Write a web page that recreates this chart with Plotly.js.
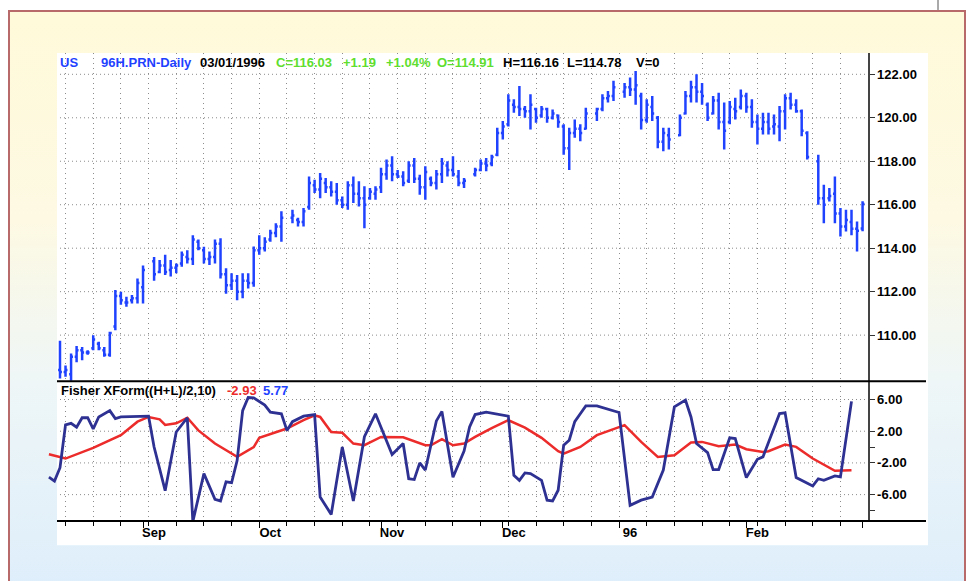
<!DOCTYPE html>
<html><head><meta charset="utf-8">
<script src="https://cdn.plot.ly/plotly-3.0.1.min.js"></script>
<style>
html,body{margin:0;padding:0;background:#fff;width:970px;height:581px;overflow:hidden;}
#frame{position:absolute;left:8px;top:10px;width:954px;height:600px;border:2px solid #b86a6a;
background:linear-gradient(to bottom,#fffad9 0%,#fdf9e3 35%,#eef6f7 62%,#dcedfb 100%);}
#chart{position:absolute;left:0;top:0;width:970px;height:581px;}
</style></head><body>
<div id="frame"></div><div id="chart"></div>
<script>
// trading-day index (weekdays from Aug 11 1995 = 0; holidays missing)
const dayIdx = [0,1,2,3,4,5,6,7,8,9,10,11,12,13,14,15,17,18,19,20,21,22,23,24,25,26,27,28,29,30,31,32,33,34,35,36,37,38,39,40,42,43,44,45,46,47,48,49,50,51,52,53,54,55,56,57,58,59,60,61,62,63,64,65,66,67,68,69,70,71,72,73,75,76,77,78,79,80,81,82,83,84,85,86,87,88,89,90,91,92,93,94,95,97,98,99,100,102,103,104,105,106,107,108,109,110,112,113,114,115,116,117,118,119,120,121,122,123,124,125,126,127,128,129,130,131,132,133,134,135,137,138,139,140,141,142,143,144,145];
const high = [109.74,108.6,109.15,109.5,109.45,109.3,110.0,109.7,109.45,110.15,112.08,112.0,111.77,111.85,112.6,113.2,
113.6,113.46,113.7,113.46,113.3,113.85,113.9,114.6,114.4,114.07,113.85,114.4,114.46,113.08,112.85,112.77,112.85,112.85,114.08,114.6,114.5,114.85,115.15,115.7,
115.77,115.4,115.85,117.3,117.15,117.46,117.23,117.08,117.0,116.38,117.08,117.3,117.08,116.85,116.77,116.85,117.7,118.08,118.23,117.6,117.54,118.0,118.15,117.38,117.77,117.3,117.6,118.15,118.0,118.23,117.6,117.23,
117.7,118.08,118.15,118.3,119.54,119.85,121.08,120.85,121.46,120.54,121.08,120.46,120.54,120.46,120.38,120.15,119.7,119.54,119.92,119.7,120.46,
120.46,121.08,121.23,121.7,
121.6,121.85,122.15,121.15,120.85,121.0,120.08,119.54,119.54,
120.15,121.23,121.7,122.0,121.6,120.7,121.0,121.15,120.7,120.77,120.92,121.3,121.15,120.85,120.15,120.23,120.23,120.15,120.54,121.08,121.15,120.85,120.38,119.38,
118.3,116.92,116.77,117.3,115.85,115.77,115.77,115.23,116.16];
const low = [108.0,108.08,107.9,108.75,108.85,109.1,109.3,109.3,109.0,109.0,110.23,111.4,111.3,111.46,111.46,111.46,
112.5,112.85,112.77,112.7,112.85,113.15,113.3,113.23,113.9,113.3,113.23,113.3,112.6,111.9,112.08,111.6,111.7,112.15,112.23,113.7,113.85,114.3,114.5,114.3,
115.15,115.0,115.0,115.77,116.54,116.3,116.54,116.38,116.0,115.85,115.77,116.08,115.92,114.92,116.23,116.23,116.54,117.15,117.08,117.23,116.85,117.0,117.0,116.46,116.23,116.85,116.7,117.0,117.3,117.3,116.85,116.77,
117.3,117.54,117.54,117.77,118.23,119.0,119.6,120.23,120.08,120.0,119.46,119.77,120.0,119.77,119.92,119.54,118.3,117.6,119.08,118.92,119.46,
119.85,120.3,120.7,120.77,
120.92,121.0,120.6,119.46,119.77,119.85,118.6,118.46,118.54,
119.15,120.15,120.7,120.7,120.6,119.85,120.15,119.46,118.54,119.7,119.92,120.38,120.23,119.54,118.77,119.23,119.23,119.23,118.92,119.46,120.38,120.23,119.15,118.08,
116.0,115.15,116.15,115.15,114.54,114.77,114.6,113.85,114.78];
const open = [108.4,108.3,108.2,109.0,109.3,109.2,109.4,109.6,109.3,109.1,110.4,111.8,111.5,111.6,111.7,112.2,
113.4,112.9,113.2,113.0,113.1,113.3,113.6,113.5,114.3,113.9,113.5,113.6,114.2,112.8,112.3,112.5,112.0,112.5,112.4,113.9,114.0,114.4,114.7,115.0,
115.4,115.3,115.2,115.9,116.9,116.7,117.0,116.8,116.6,116.2,116.0,116.9,116.5,116.3,116.3,116.5,116.8,117.4,117.8,117.4,117.3,117.1,117.8,117.2,116.8,117.2,117.0,117.4,117.8,117.6,117.3,117.0,
117.4,117.6,117.9,117.9,118.3,119.3,119.7,120.6,120.5,120.4,120.3,120.4,120.1,120.4,120.0,120.1,119.6,118.6,119.3,119.5,119.5,
120.2,120.4,120.9,121.0,
121.2,121.4,121.3,121.0,119.9,120.5,120.0,118.9,119.2,
119.2,120.2,121.0,121.4,121.2,120.6,120.2,120.8,119.8,119.8,120.4,120.5,121.0,120.5,119.8,119.5,119.8,119.6,119.6,120.3,120.9,120.6,120.3,119.3,
118.0,116.3,116.3,116.5,115.6,115.0,115.2,114.9,114.91];
const close = [108.3,108.4,109.0,109.3,109.2,109.2,109.8,109.4,109.1,110.1,111.8,111.6,111.5,111.7,112.4,113.0,
112.8,113.2,112.9,113.1,113.2,113.7,113.5,114.4,114.0,113.5,113.6,114.2,112.8,112.3,112.5,112.0,112.5,112.4,113.9,114.0,114.3,114.7,115.0,115.4,
115.5,115.2,115.7,117.0,116.7,117.2,116.8,116.6,116.2,116.0,116.9,116.5,116.3,116.0,116.6,116.7,117.4,117.8,117.4,117.3,117.0,117.8,117.2,116.8,117.5,117.0,117.4,117.9,117.6,117.4,117.0,117.1,
117.6,117.9,117.8,118.2,119.3,119.6,120.8,120.5,120.4,120.3,120.6,120.0,120.4,120.0,120.2,119.8,118.6,119.3,119.5,119.3,120.2,
120.4,120.9,121.0,121.4,
121.4,121.3,121.5,119.9,120.6,120.2,118.9,119.3,119.0,
120.0,121.0,121.4,121.2,121.0,120.0,120.8,119.8,119.4,120.5,120.3,121.0,120.5,119.8,119.5,119.8,119.5,119.7,120.3,120.9,120.6,120.3,119.4,118.2,
116.3,116.0,116.4,115.6,115.0,115.3,114.9,114.8,116.03];

// Fisher transform and its signal line (read at turning points)
const fisherX = [-2,-1,0,1,2,3,4,5,6,7,9,10,11,16,17,19,21,23,24,26,28,29,30,31,32,33,34,35,37,38,40,41,42,44,46,47,49,51,53,55,57,60,62,63,64,65,66,68,69,71,73,74,75,77,81,82,83,84,85,87,88,89,90,91,92,93,94,95,97,101,103,105,107,109,111,113,114,115,117,118,119,121,122,124,126,127,130,131,133,135,136,137,138,140,141,143];
const fisherV = [-3.8,-4.3,-2.6,2.8,3.0,2.5,3.7,3.7,2.3,3.8,4.6,3.6,3.8,3.9,0.0,-5.5,1.9,3.7,-9.4,-3.35,-6.6,-6.8,-4.4,-4.5,-1.7,4.6,6.25,6.2,5.3,4.4,4.2,2.1,3.2,3.9,4.1,-6.3,-8.5,0.0,-6.8,1.3,4.2,-0.95,0.44,-4.0,-4.1,-2.0,-2.9,3.3,4.5,-3.8,-0.5,2.55,4.1,4.4,3.9,-3.56,-4.2,-3.26,-3.35,-4.2,-6.7,-6.8,-5.45,0.23,0.86,3.2,4.2,5.2,5.2,4.36,-7.35,-6.7,-6.3,-2.9,5.07,5.92,3.8,0.44,-0.7,-2.84,-2.84,1.16,1.07,-3.85,-1.54,-1.24,4.23,4.32,-3.85,-4.6,-4.9,-4.0,-4.2,-3.64,-3.77,5.77];
const sigX = [-2,1,6,11,14,16,18,19,21,23,25,28,32,35,36,41,44,46,47,49,51,53,55,58,62,66,67,69,71,73,75,78,81,84,87,90,91,94,97,102,105,108,111,114,116,119,122,124,127,128,131,133,136,140,143];
const sigV = [-0.9,-1.45,-0.1,1.5,3.2,3.8,3.5,2.8,3.0,3.7,2.1,0.44,-1.24,0.0,1.16,2.34,3.4,4.0,3.8,1.9,1.8,0.44,0.23,1.28,1.24,0.23,0.23,1.0,0.23,0.44,1.28,2.4,3.39,2.46,1.16,-0.53,-0.82,0.02,1.5,2.76,0.65,-1.24,-1.03,0.57,0.65,0.1,0.31,-0.27,-0.61,-0.53,0.31,0.02,-1.45,-3.0,-2.93];

const monthIdx = [15,36,58,80,101,124,145];
const monthLabels = ['Sep','Oct','Nov','Dec','96','Feb',''];
const priceTicks = [110,112,114,116,118,120,122];
const fisherTicks = [6,2,-2,-6];
const fisherTickText = ['6.00','2.00','-2.00','-6.00'];
const fisherMinorTicks = [0,-8];

// geometry helpers (pixels -> paper)
const L=46, R=868, T=53, B=520.7;
const W=R-L, H=B-T;
const px = x => (x-L)/W, py = y => (B-y)/H;
const split = py(381);

const BLUE='#1f42ff', NAVY='#2e3192', RED='#ec2b2b', GREEN='#5fde2f';
const FONT='"Liberation Sans", Arial, sans-serif';

const traces = [
 {type:'ohlc', x:dayIdx, open:open, high:high, low:low, close:close, xaxis:'x', yaxis:'y',
  increasing:{line:{color:BLUE,width:2.5}}, decreasing:{line:{color:BLUE,width:2.5}},
  tickwidth:0.35, hoverinfo:'skip'},
 {type:'scatter', mode:'lines', x:sigX, y:sigV, xaxis:'x2', yaxis:'y2',
  line:{color:RED,width:2.5}, hoverinfo:'skip'},
 {type:'scatter', mode:'lines', x:fisherX, y:fisherV, xaxis:'x2', yaxis:'y2',
  line:{color:NAVY,width:2.8}, hoverinfo:'skip'}
];

const gridDash='1px,3px', gridCol='#8c8c8c';
const shapes = [
 {type:'rect', xref:'paper', yref:'paper', x0:px(57), x1:px(928), y0:py(545), y1:py(53),
  fillcolor:'#ffffff', line:{width:0}, layer:'below'}
];
priceTicks.forEach(v=>shapes.push({type:'line', xref:'paper', yref:'y', x0:px(60), x1:1, y0:v, y1:v,
  line:{color:gridCol,width:1,dash:gridDash}, layer:'below'}));
fisherTicks.forEach(v=>shapes.push({type:'line', xref:'paper', yref:'y2', x0:px(60), x1:1, y0:v, y1:v,
  line:{color:gridCol,width:1,dash:gridDash}, layer:'below'}));
shapes.push({type:'line', xref:'paper', yref:'paper', x0:px(57), x1:px(926), y0:split, y1:split,
  line:{color:'#000',width:2}, layer:'above'});
shapes.push({type:'line', xref:'paper', yref:'paper', x0:px(57), x1:px(926), y0:0, y1:0,
  line:{color:'#000',width:2}, layer:'above'});
shapes.push({type:'line', xref:'paper', yref:'paper', x0:px(938), x1:px(938), y0:py(0), y1:py(10),
  line:{color:'#555',width:1}, layer:'above'});

function ann(text, x, y, color){
  return {text:text, xref:'paper', yref:'paper', x:px(x), y:py(y), xanchor:'left', yanchor:'middle',
   showarrow:false, borderpad:0, font:{family:FONT, size:13, color:color, weight:'bold'}};
}
const annotations = [
 ann('US',59,62.7,BLUE), ann('96H.PRN-Daily',99.5,62.7,BLUE), ann('03/01/1996',199,62.7,'#000'),
 ann('C=116.03',275,62.7,GREEN), ann('+1.19',342,62.7,GREEN), ann('+1.04%',385,62.7,GREEN),
 ann('O=114.91',435.5,62.7,GREEN), ann('H=116.16',502,62.7,'#000'), ann('L=114.78',565.5,62.7,'#000'),
 ann('V=0',634.5,62.7,'#000'),
 ann('Fisher XForm((H+L)/2,10)',59.5,390,'#000'), ann('-2.93',225.5,390,RED), ann('5.77',262,390,BLUE)
];

const tickFont = {family:FONT, size:13, color:'#000', weight:'bold'};
const xRange = [(L-60)/5.535, (R-60)/5.535];
const layout = {
 width:970, height:581, margin:{l:L, r:970-R, t:T, b:581-B, pad:0},
 paper_bgcolor:'rgba(0,0,0,0)', plot_bgcolor:'rgba(0,0,0,0)', showlegend:false,
 xaxis:{domain:[0,1], anchor:'y', range:xRange, showticklabels:false, ticks:'', showgrid:false, zeroline:false,
   showline:false, rangeslider:{visible:false},
   minor:{tick0:1, dtick:5, showgrid:true, gridcolor:gridCol, griddash:'1px,4px', gridwidth:1, ticks:''}},
 xaxis2:{domain:[0,1], anchor:'y2', matches:'x', range:xRange, tickmode:'array', tickvals:monthIdx, ticktext:monthLabels,
   ticks:'outside', ticklen:6, tickwidth:1, tickcolor:'#000', showgrid:false, zeroline:false, showline:false,
   ticklabelshift:11, ticklabelstandoff:-7, tickfont:tickFont,
   minor:{tick0:1, dtick:5, showgrid:true, gridcolor:gridCol, griddash:'1px,4px', gridwidth:1, ticks:'outside', ticklen:4, tickcolor:'#000'}},
 yaxis:{domain:[split,1], anchor:'x', side:'right', range:[107.88,122.98], tickmode:'array', tickvals:priceTicks,
   tickformat:'.2f', ticks:'outside', ticklen:5, tickcolor:'#333', showgrid:false, zeroline:false,
   showline:true, linecolor:'#444', linewidth:1.5, tickfont:tickFont},
 yaxis2:{domain:[0,split], anchor:'x2', side:'right', range:[-9.33,8.31], tickmode:'array', tickvals:fisherTicks,
   ticktext:fisherTickText, ticks:'outside', ticklen:5, tickcolor:'#333', showgrid:false, zeroline:false,
   showline:true, linecolor:'#444', linewidth:1.5, tickfont:tickFont,
   minor:{tickmode:'array', tickvals:fisherMinorTicks, ticks:'outside', ticklen:5, tickcolor:'#333', showgrid:false}},
 shapes:shapes, annotations:annotations
};
Plotly.newPlot('chart', traces, layout, {staticPlot:true, displayModeBar:false});
</script></body></html>
